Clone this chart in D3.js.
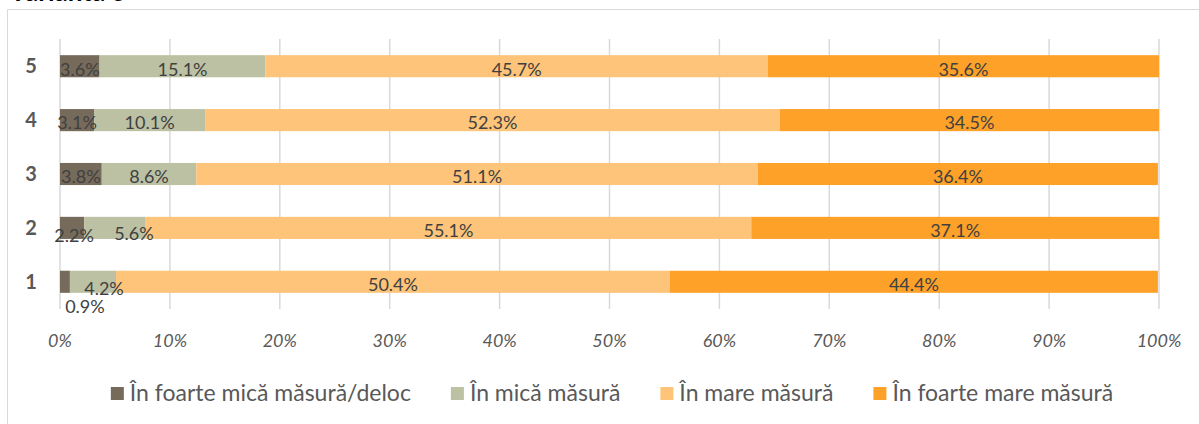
<!DOCTYPE html>
<html>
<head>
<meta charset="utf-8">
<script src="https://cdn.jsdelivr.net/npm/d3@7"></script>
<style>
    body { margin: 0; background: #fff; }
    svg { display: block; font-family: Lato, "Open Sans", sans-serif; }
</style>
</head>
<body>
<div id="chart"></div>
<script>
// Categories (top to bottom) and series
const categories = ["5", "4", "3", "2", "1"];
const seriesNames = ["În foarte mică măsură/deloc", "În mică măsură", "În mare măsură", "În foarte mare măsură"];
const seriesColors = ["#766a5b", "#bcc1a3", "#fdc47a", "#fda128"];

// Values per series, in category order 5..1
const veryLittle = [3.6, 3.1, 3.8, 2.2, 0.9];
const little     = [15.1, 10.1, 8.6, 5.6, 4.2];
const much       = [45.7, 52.3, 51.1, 55.1, 50.4];
const veryMuch   = [35.6, 34.5, 36.4, 37.1, 44.4];

const tickValues = [0, 10, 20, 30, 40, 50, 60, 70, 80, 90, 100];

const width = 1199, height = 424;
const margin = {top: 39, right: 40, bottom: 115, left: 60};

// Manually dragged labels in the original (key: category-series index) -> [dx, dy]
const labelNudge = {
    "2-0": [2, 5], "2-1": [19, 3],
    "1-0": [20, 22], "1-1": [11, 4]
};

const svg = d3.select("#chart").append("svg")
    .attr("width", width)
    .attr("height", height);

// Title, mostly cut off at the top edge like the source image
svg.append("text")
    .attr("x", 9)
    .attr("y", 1)
    .attr("font-size", 26)
    .attr("font-weight", "bold")
    .attr("fill", "#000")
    .text("Varianta 5");

// Chart area border (only left and top visible)
svg.append("path")
    .attr("d", `M7.5,${height} V9.5 H${width}`)
    .attr("fill", "none")
    .attr("stroke", "#d9d9d9")
    .attr("stroke-width", 1);

const x = d3.scaleLinear()
    .domain([0, 100])
    .range([margin.left, width - margin.right]);

const y = d3.scaleBand()
    .domain(categories)
    .range([margin.top, height - margin.bottom])
    .paddingInner(0.59)
    .paddingOuter(0.3);

// Gridlines
svg.append("g")
    .selectAll("line")
    .data(tickValues)
    .join("line")
    .attr("x1", d => x(d))
    .attr("x2", d => x(d))
    .attr("y1", margin.top)
    .attr("y2", height - margin.bottom)
    .attr("stroke", "#d9d9d9")
    .attr("stroke-width", 1.5);

// Tick labels
svg.append("g")
    .selectAll("text")
    .data(tickValues)
    .join("text")
    .attr("x", d => x(d))
    .attr("y", 347)
    .attr("text-anchor", "middle")
    .attr("font-size", 18)
    .attr("font-style", "italic")
    .attr("fill", "#595959")
    .text(d => d + "%");

// Category labels
svg.append("g")
    .selectAll("text")
    .data(categories)
    .join("text")
    .attr("x", 31)
    .attr("y", d => y(d) + y.bandwidth() / 2)
    .attr("dy", "0.35em")
    .attr("text-anchor", "middle")
    .attr("font-size", 20)
    .attr("font-weight", "bold")
    .attr("fill", "#595959")
    .text(d => d);

// Stack data
const rows = categories.map((c, i) => ({
    cat: c,
    s0: veryLittle[i], s1: little[i], s2: much[i], s3: veryMuch[i]
}));
const stack = d3.stack().keys(["s0", "s1", "s2", "s3"])(rows);

const layers = svg.append("g")
    .selectAll("g")
    .data(stack)
    .join("g")
    .attr("fill", (d, i) => seriesColors[i]);

layers.selectAll("rect")
    .data(d => d)
    .join("rect")
    .attr("x", d => x(d[0]))
    .attr("width", d => x(d[1]) - x(d[0]))
    .attr("y", d => y(d.data.cat))
    .attr("height", y.bandwidth());

// Data labels
const labels = svg.append("g");
stack.forEach((layer, li) => {
    layer.forEach(d => {
        const val = d.data[layer.key];
        const nudge = labelNudge[`${d.data.cat}-${li}`] || [0, 0];
        const cx = (x(d[0]) + x(d[1])) / 2;
        const cy = y(d.data.cat) + y.bandwidth() / 2;
        labels.append("text")
            .attr("x", cx + nudge[0])
            .attr("y", cy + 3 + nudge[1])
            .attr("dy", "0.35em")
            .attr("text-anchor", "middle")
            .attr("font-size", 18)
            .attr("fill", "#404040")
            .text(val.toFixed(1) + "%");
    });
});

// Legend
const legend = svg.append("g");
const items = legend.selectAll("g")
    .data(seriesNames)
    .join("g");
items.append("rect")
    .attr("width", 13)
    .attr("height", 13)
    .attr("y", 387)
    .attr("fill", (d, i) => seriesColors[i]);
items.append("text")
    .attr("x", 19)
    .attr("y", 401)
    .attr("font-size", 23)
    .attr("fill", "#595959")
    .text(d => d);

const gap = 40;
let offsets = [], cur = 0;
items.each(function() {
    const w = this.querySelector("text").getComputedTextLength() + 19;
    offsets.push(cur);
    cur += w + gap;
});
const total = cur - gap;
const start = 612 - total / 2;
items.attr("transform", (d, i) => `translate(${start + offsets[i]},0)`);
</script>
</body>
</html>
